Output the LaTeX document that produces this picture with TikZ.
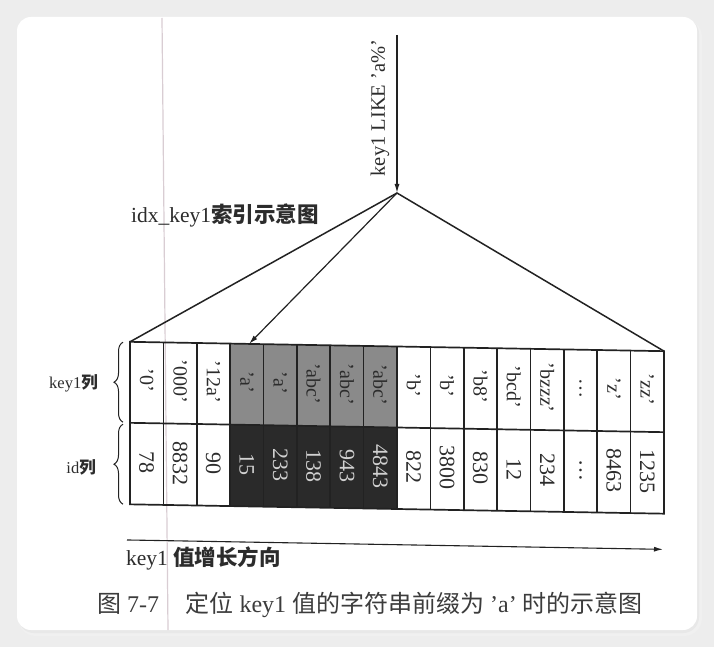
\documentclass[tikz,border=0pt]{standalone}
\usepackage{fontspec}
\setmainfont{Liberation Serif}
\newfontfamily\cjk{Noto Sans CJK SC}
\usetikzlibrary{decorations.pathreplacing,arrows.meta}
\definecolor{bgc}{HTML}{EDEDED}
\definecolor{ink}{HTML}{222222}
\definecolor{txt}{HTML}{2C2C2C}
\definecolor{midg}{HTML}{8A8A8A}
\definecolor{darkg}{HTML}{2A2A2A}
\definecolor{scanline}{HTML}{D9CDD3}
\definecolor{captxt}{HTML}{3C3C3C}
\tikzset{
  tline/.style={draw=ink, line width=1.5pt},
  arr/.style={draw=ink, line width=1.2pt, -{Latex[length=9pt,width=5pt]}},
  grid/.style={draw=ink, line width=1.7pt},
  keytxt/.style={rotate=-90, font=\fontsize{20}{20}\selectfont, text=txt, inner sep=0pt},
  idtxt/.style={rotate=-90, font=\fontsize{22}{22}\selectfont, text=txt, inner sep=0pt},
  lbl/.style={font=\fontsize{16.5}{16.5}\selectfont, text=txt, inner sep=0pt},
  bracestyle/.style={draw=ink, line width=1pt, decorate, decoration={brace, amplitude=9pt}},
}
\begin{document}
\begin{tikzpicture}[x=1pt,y=-1pt]
\useasboundingbox (0,0) rectangle (714,647);
\fill[bgc] (0,0) rectangle (714,647);
\fill[black!6, rounded corners=18] (18,19) rectangle (702,636);
\fill[black!9, rounded corners=16] (18,18) rectangle (699,633);
\fill[white, rounded corners=14] (17,17) rectangle (697,630);
\coordinate (s1) at (162,18);
\coordinate (s2) at (168,630);
\draw[scanline, line width=1.2pt] (s1) -- (s2);

\begin{scope}[yshift=6.95pt, yslant=-0.0175]
  % shaded cells
  \fill[midg] (230.125,346.5) rectangle (397,427.5);
  \fill[darkg] (230.125,427.5) rectangle (397,509);
  % grid
  \draw[grid] (130,346.5) rectangle (664,509);
  \draw[grid] (130,427.5) -- (664,427.5);
  \foreach \i in {1,...,15} {
    \draw[grid] ({130+\i*33.375},346.5) -- ({130+\i*33.375},509);
  }
  % key row
  \foreach \t [count=\i] in {'0','000','12a','a','a','abc','abc','abc','b','b','b8','bcd','bzzz',\dots,'z','zz'} {
    \node[keytxt] (k\i) at ({130+(\i-0.5)*33.375},385) {\t};
  }
  % id row
  \foreach \t [count=\i] in {78,8832,90,15,233,138,943,4843,822,3800,830,12,234,\dots,8463,1235} {
    \pgfmathtruncatemacro{\dk}{(\i>3)&&(\i<9)}
    \ifnum\dk=1
      \node[idtxt, text=white!82!black] (d\i) at ({130+(\i-0.5)*33.375},467) {\t};
    \else
      \node[idtxt] (d\i) at ({130+(\i-0.5)*33.375},467) {\t};
    \fi
  }
  \coordinate (TL) at (130,346.5);
  \coordinate (TR) at (664,346.5);
  \coordinate (target) at (249,346.5);
  \coordinate (apex) at (397,193);
  \coordinate (qtop) at (397,35);
  \draw[tline] (TL) -- (apex) -- (TR);
  \draw[arr] (apex) -- (target);
  \draw[arr] (qtop) -- (apex);
  % braces
  \coordinate (b1a) at (123,427);
  \coordinate (b1b) at (123,347);
  \coordinate (b2a) at (123,509);
  \coordinate (b2b) at (123,429);
  \draw[bracestyle] (b1a) -- (b1b);
  \draw[bracestyle] (b2a) -- (b2b);
  % growth arrow
  \coordinate (ga) at (127,544.7);
  \coordinate (gb) at (663,544.7);
  \draw[draw=ink, line width=1.1pt, -{Latex[length=9pt,width=5pt]}] (ga) -- (gb);
\end{scope}

\node[rotate=90, font=\fontsize{20.5}{20.5}\selectfont, text=txt, inner sep=0pt] (q) at (380,108) {key1 LIKE 'a\%'};
\node[anchor=west, font=\fontsize{21.5}{21.5}\selectfont, text=txt, inner sep=0pt] (idx) at (131,215) {idx\_key1{\cjk\bfseries 索引示意图}};
\node[lbl, anchor=east] (kl) at (98,383) {key1{\cjk\bfseries 列}};
\node[lbl, anchor=east] (il) at (96,467) {id{\cjk\bfseries 列}};
\node[anchor=west, font=\fontsize{21.5}{21.5}\selectfont, text=txt, inner sep=0pt] (grow) at (126,558) {key1 {\cjk\bfseries 值增长方向}};
\node[font=\fontsize{24}{24}\selectfont, text=captxt, inner sep=0pt] (cap) at (370,605) {{\cjk 图} 7-7\hspace{1.1em}{\cjk 定位} key1 {\cjk 值的字符串前缀为} 'a' {\cjk 时的示意图}};
\end{tikzpicture}
\end{document}
